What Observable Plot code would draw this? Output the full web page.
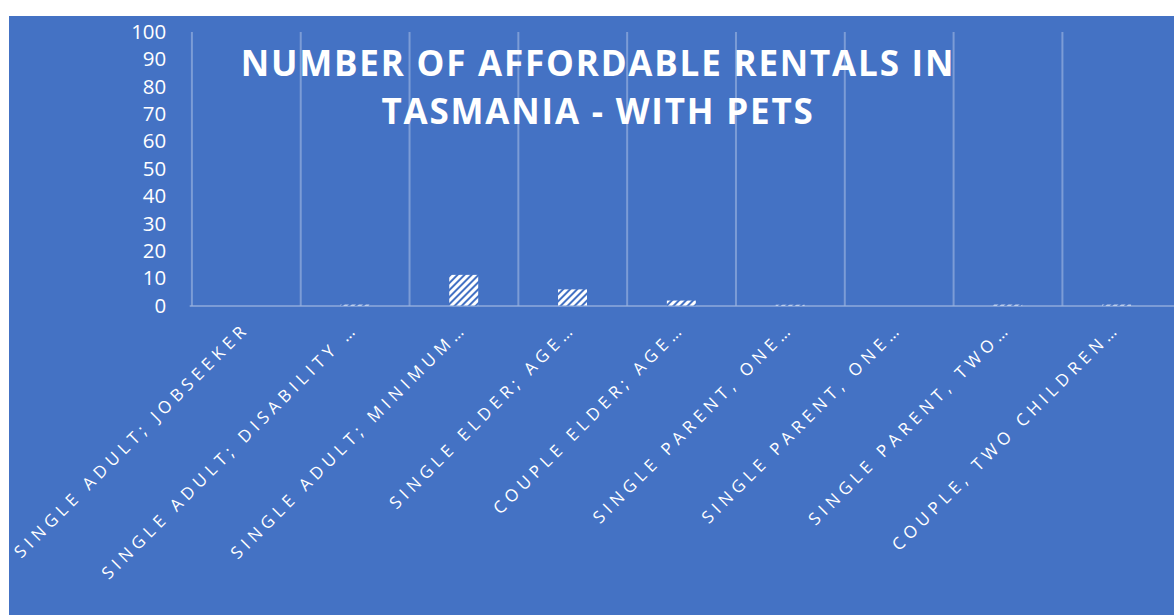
<!DOCTYPE html>
<html><head><meta charset="utf-8">
<script src="https://cdn.jsdelivr.net/npm/d3@7"></script>
<script src="https://cdn.jsdelivr.net/npm/@observablehq/plot@0.6"></script>
<style>
html,body{margin:0;padding:0;background:#fff;overflow:hidden;width:1174px;height:615px}
#wrap{position:absolute;left:9px;top:16px;width:1165px;height:599px;background:#4472C4;overflow:hidden;font-family:"Open Sans",sans-serif}
#title{position:absolute;left:0;top:23px;width:1178px;text-align:center;color:#fff;font-weight:700;font-size:35px;line-height:48px;letter-spacing:1.8px;z-index:2;pointer-events:none}
#chart{position:absolute;left:0;top:0}
</style></head>
<body>
<div id="wrap">
  <div id="chart"></div>
  <div id="title">NUMBER OF AFFORDABLE RENTALS IN<br>TASMANIA - WITH PETS</div>
</div>
<script>
const categories = [
  "SINGLE ADULT; JOBSEEKER",
  "SINGLE ADULT; DISABILITY …",
  "SINGLE ADULT; MINIMUM…",
  "SINGLE ELDER; AGE…",
  "COUPLE ELDER; AGE…",
  "SINGLE PARENT, ONE…",
  "SINGLE PARENT, ONE…",
  "SINGLE PARENT, TWO…",
  "COUPLE, TWO CHILDREN…"
];
const values = [0, 0.3, 11.2, 5.9, 1.8, 0.25, 0, 0.3, 0.3];
const yTicks = [0, 10, 20, 30, 40, 50, 60, 70, 80, 90, 100];

const data = categories.map((label, i) => ({i, label, value: values[i]}));
const idx = data.map(d => d.i);

const W = 1167, H = 599, ML = 181, MR = 0, MT = 16, MB = 309;
const xOpts = {type: "band", domain: idx, paddingInner: 0.73, paddingOuter: 0.365};
const sx = Plot.scale({x: {...xOpts, range: [ML, W - MR]}});
const step = sx.step ?? (W - MR - ML) / idx.length;
const grid = "rgba(255,255,255,0.3)";

const svg = Plot.plot({
  width: W, height: H,
  marginLeft: ML, marginRight: MR, marginTop: MT, marginBottom: MB,
  style: {background: "transparent", color: "#fff", fontFamily: "'Open Sans', sans-serif", overflow: "visible"},
  x: {...xOpts, axis: null, label: null},
  y: {domain: [0, 100], ticks: yTicks, axis: null, label: null},
  marks: [
    Plot.ruleX(idx, {x: d => d, y1: 0, y2: 100, dx: -step / 2, stroke: grid, strokeWidth: 2}),
    Plot.ruleY([0], {stroke: grid, strokeWidth: 2}),
    Plot.barY(data, {x: "i", y: "value", fill: "url(#hatch)"}),
    Plot.axisY({ticks: yTicks, tickSize: 0, tickPadding: 24, fontSize: 20.5, textAnchor: "end", label: null}),
    Plot.axisX({tickFormat: i => categories[i], tickRotate: -45, tickSize: 0, tickPadding: 20, fontSize: 17, label: null})
  ]
});

const s = d3.select(svg);
const defs = s.insert("defs", ":first-child");
const p = defs.append("pattern").attr("id", "hatch").attr("patternUnits", "userSpaceOnUse")
  .attr("width", 5).attr("height", 5).attr("patternTransform", "rotate(45)");
p.append("rect").attr("width", 5).attr("height", 5).attr("fill", "#fff");
p.append("rect").attr("width", 2).attr("height", 5).attr("fill", "#4472C4");
s.selectAll('[aria-label="x-axis tick label"] text').style("letter-spacing", "4.9px");
document.getElementById("chart").appendChild(svg);
</script>
</body></html>
